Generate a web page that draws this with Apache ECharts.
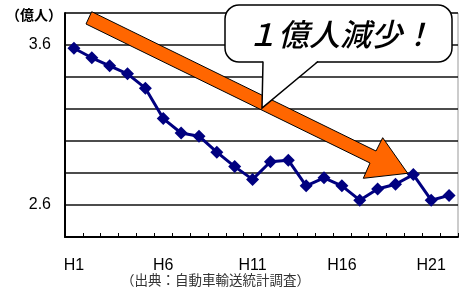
<!DOCTYPE html>
<html>
<head>
<meta charset="utf-8">
<script src="https://cdn.jsdelivr.net/npm/echarts@6/dist/echarts.min.js"></script>
<style>
  html, body { margin: 0; padding: 0; background: #fff; }
  #chart { width: 461px; height: 295px; }
</style>
</head>
<body>
<div id="chart"></div>
<script>
// 年度（平成）
const years = ['H1', 'H2', 'H3', 'H4', 'H5', 'H6', 'H7', 'H8', 'H9', 'H10', 'H11',
  'H12', 'H13', 'H14', 'H15', 'H16', 'H17', 'H18', 'H19', 'H20', 'H21', 'H22']
// 輸送人員（億人）
const passengers = [3.58, 3.52, 3.47, 3.42, 3.33, 3.14, 3.05, 3.03, 2.93, 2.84, 2.76,
  2.87, 2.88, 2.72, 2.77, 2.72, 2.63, 2.70, 2.73, 2.79, 2.63, 2.66]
// 表示する目盛ラベル
const shownYTicks = [3.6, 2.6]

const unitLabel = '（億人）'
const sourceNote = '（出典：自動車輸送統計調査）'
const calloutText = '１億人減少！'

const latin = '"Liberation Sans", "Noto Sans CJK JP", sans-serif'
const cjk = '"Noto Sans CJK JP", sans-serif'

const chart = echarts.init(document.getElementById('chart'), null, { renderer: 'canvas' })

const option = {
  animation: false,
  backgroundColor: '#fff',
  grid: {
    left: 65,
    right: 3,
    top: 13,
    bottom: 58,
    show: true,
    borderColor: '#999',
    borderWidth: 1
  },
  xAxis: {
    type: 'category',
    data: years,
    boundaryGap: true,
    axisLine: { lineStyle: { color: '#000', width: 2 } },
    axisTick: { show: true, inside: true, length: 4, interval: 0, lineStyle: { color: '#000', width: 1 } },
    axisLabel: {
      interval: 4,
      margin: 21,
      color: '#000',
      fontSize: 16,
      fontFamily: latin
    }
  },
  yAxis: {
    type: 'value',
    min: 2.4,
    max: 3.8,
    interval: 0.2,
    axisLine: { show: true, lineStyle: { color: '#000', width: 2 } },
    axisTick: { show: false },
    axisLabel: {
      margin: 14,
      color: '#000',
      fontSize: 16,
      fontFamily: latin,
      formatter: (v) => shownYTicks.some(t => Math.abs(t - v) < 1e-6) ? v.toFixed(1) : ''
    },
    splitLine: { show: true, lineStyle: { color: '#111', width: 1.5 } }
  },
  series: [
    {
      type: 'line',
      data: passengers,
      symbol: 'diamond',
      symbolSize: 13,
      showSymbol: true,
      showAllSymbol: true,
      lineStyle: { color: '#000080', width: 3 },
      itemStyle: { color: '#000080' },
      z: 3
    }
  ],
  graphic: [
    {
      type: 'text',
      left: 6,
      top: 8,
      style: { text: unitLabel, fontSize: 14, fontWeight: 'bold', fontFamily: cjk, fill: '#000' }
    },
    {
      type: 'text',
      left: 121,
      top: 273,
      style: { text: sourceNote, fontSize: 13.5, fontFamily: cjk, fill: '#333' }
    },
    // オレンジの矢印
    {
      type: 'polygon',
      z: 10,
      shape: {
        points: [[91.7, 11.7], [376, 151], [382.7, 137.7], [407.7, 173.3],
          [363.3, 178.3], [370, 163], [86, 24]]
      },
      style: { fill: '#FF6600', stroke: '#000', lineWidth: 1 }
    },
    // 吹き出し
    {
      type: 'rect',
      z: 11,
      shape: { x: 225, y: 5, width: 227, height: 57, r: 14 },
      style: { fill: '#fff', stroke: '#000', lineWidth: 1.5 }
    },
    {
      type: 'polygon',
      z: 12,
      shape: { points: [[263, 60.5], [262, 108], [318, 60.5]] },
      style: { fill: '#fff', stroke: null }
    },
    {
      type: 'polyline',
      z: 13,
      shape: { points: [[263, 61.5], [262, 108], [318, 61.5]] },
      style: { fill: null, stroke: '#000', lineWidth: 1.5 }
    },
    {
      type: 'text',
      z: 14,
      x: 340,
      y: 34,
      style: {
        text: calloutText,
        fontSize: 31,
        fontStyle: 'italic',
        fontWeight: 500,
        fontFamily: cjk,
        fill: '#000',
        align: 'center',
        verticalAlign: 'middle'
      }
    }
  ]
}

chart.setOption(option)
</script>
</body>
</html>
